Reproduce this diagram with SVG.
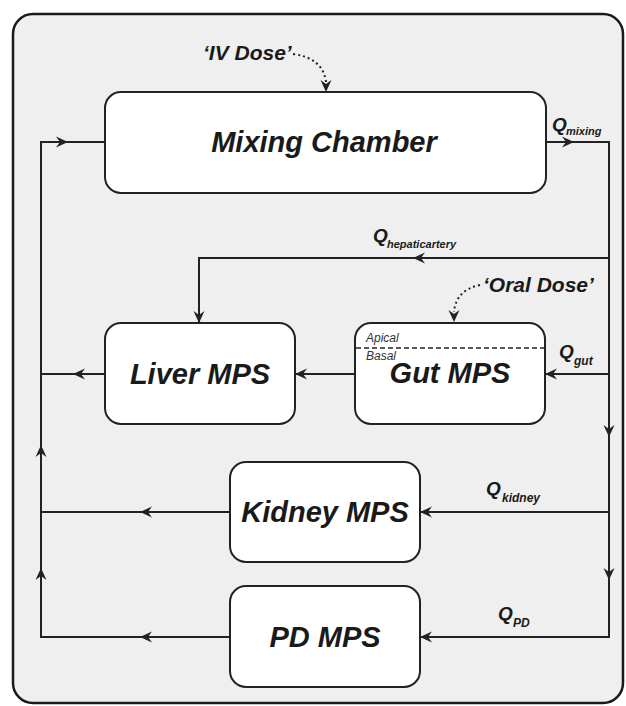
<svg xmlns="http://www.w3.org/2000/svg" width="626" height="706" viewBox="0 0 626 706">
<style>
.frame{fill:#efefef;stroke:#1a1a1a;stroke-width:2.5}
.node{fill:#ffffff;stroke:#222;stroke-width:2}
.line{fill:none;stroke:#222;stroke-width:2}
.dot{fill:none;stroke:#222;stroke-width:2;stroke-dasharray:2 3}
.big{font-family:"Liberation Sans",Arial,sans-serif;font-weight:bold;font-style:italic;font-size:29px;fill:#1a1a1a;text-anchor:middle}
.dose{font-family:"Liberation Sans",Arial,sans-serif;font-weight:bold;font-style:italic;font-size:21px;fill:#1a1a1a}
.q{font-family:"Liberation Sans",Arial,sans-serif;font-weight:bold;font-style:italic;font-size:19px;fill:#1a1a1a}
.sub{font-family:"Liberation Sans",Arial,sans-serif;font-weight:bold;font-style:italic;font-size:11px;fill:#1a1a1a}
.layer{font-family:"Liberation Sans",Arial,sans-serif;font-style:italic;font-size:12px;fill:#333}
.ah{fill:#222}
</style>
<defs>
<path id="ah" class="ah" d="M0,0 L-12,-5.5 L-8,0 L-12,5.5 Z"/>
</defs>
<rect class="frame" x="13" y="14" width="610" height="689" rx="20"/>

<g id="connectors">
<polyline class="line" points="546,142 609,142 609,637 420,637"/>
<polyline class="line" points="609,258 199,258 199,323"/>
<line class="line" x1="609" y1="374" x2="545" y2="374"/>
<line class="line" x1="609" y1="512" x2="420" y2="512"/>
<line class="line" x1="355" y1="374" x2="295" y2="374"/>
<polyline class="line" points="230,637 41,637 41,142 105,142"/>
<line class="line" x1="230" y1="512" x2="41" y2="512"/>
<line class="line" x1="105" y1="374" x2="41" y2="374"/>
<use href="#ah" transform="translate(574,142)"/>
<use href="#ah" transform="translate(413,258) rotate(180)"/>
<use href="#ah" transform="translate(199,323) rotate(90)"/>
<use href="#ah" transform="translate(545,374) rotate(180)"/>
<use href="#ah" transform="translate(295,374) rotate(180)"/>
<use href="#ah" transform="translate(73,374) rotate(180)"/>
<use href="#ah" transform="translate(609,437) rotate(90)"/>
<use href="#ah" transform="translate(609,580) rotate(90)"/>
<use href="#ah" transform="translate(420,512) rotate(180)"/>
<use href="#ah" transform="translate(420,637) rotate(180)"/>
<use href="#ah" transform="translate(140,512) rotate(180)"/>
<use href="#ah" transform="translate(140,637) rotate(180)"/>
<use href="#ah" transform="translate(41,445) rotate(-90)"/>
<use href="#ah" transform="translate(41,568) rotate(-90)"/>
<use href="#ah" transform="translate(68,142)"/>
<path class="dot" d="M293,54 Q323,58 326,82"/>
<use href="#ah" transform="translate(326,92) rotate(90)"/>
<path class="dot" d="M480,285 Q456,290 454,312"/>
<use href="#ah" transform="translate(454,322) rotate(90)"/>
</g>

<g id="labels">
<text class="dose" x="203" y="60">‘IV Dose’</text>
<text class="dose" x="483" y="292">‘Oral Dose’</text>
<text class="q" x="552" y="131">Q</text><text class="sub" x="566" y="135">mixing</text>
<text class="q" x="373" y="242">Q</text><text class="sub" x="387" y="248">hepaticartery</text>
<text class="q" x="559" y="358">Q</text><text class="sub" x="574" y="365" style="font-size:12px">gut</text>
<text class="q" x="486" y="495">Q</text><text class="sub" x="502" y="502" style="font-size:12px">kidney</text>
<text class="q" x="498" y="620">Q</text><text class="sub" x="513" y="627" style="font-size:12px">PD</text>
</g>

<g id="mixing">
<rect class="node" x="105" y="92" width="441" height="101" rx="16"/>
<text class="big" x="324" y="152">Mixing Chamber</text>
</g>
<g id="liver">
<rect class="node" x="105" y="323" width="190" height="101" rx="16"/>
<text class="big" x="200" y="384">Liver MPS</text>
</g>
<g id="gut">
<rect class="node" x="355" y="323" width="190" height="101" rx="16"/>
<line x1="356" y1="348" x2="544" y2="348" stroke="#222" stroke-width="1.6" stroke-dasharray="5 3"/>
<text class="layer" x="366" y="342">Apical</text>
<text class="layer" x="366" y="360">Basal</text>
<text class="big" x="450" y="383">Gut MPS</text>
</g>
<g id="kidney">
<rect class="node" x="230" y="462" width="190" height="100" rx="16"/>
<text class="big" x="325" y="522">Kidney MPS</text>
</g>
<g id="pd">
<rect class="node" x="230" y="586" width="190" height="101" rx="16"/>
<text class="big" x="325" y="647">PD MPS</text>
</g>
</svg>
